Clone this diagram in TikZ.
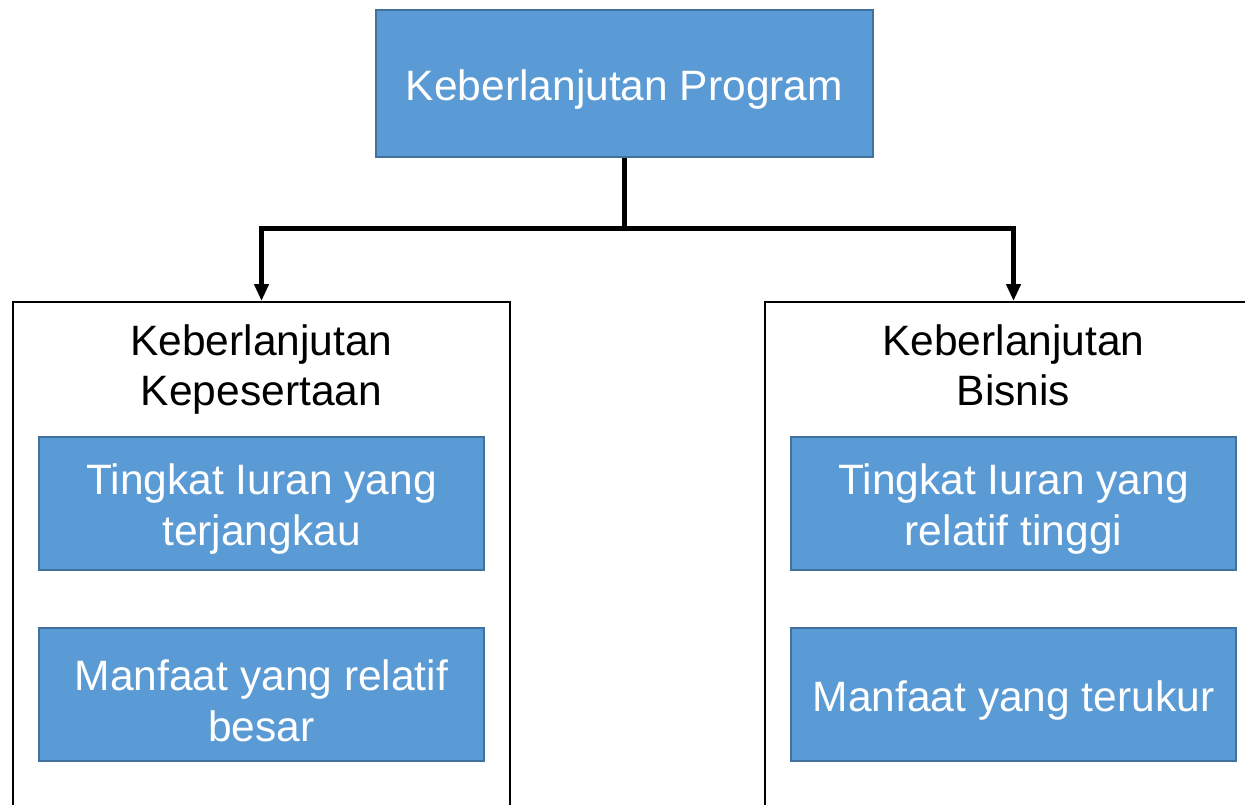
\documentclass[tikz,border=0pt]{standalone}
\usepackage{fontspec}
\setmainfont{Liberation Sans}
\usetikzlibrary{arrows.meta}
\definecolor{boxfill}{HTML}{5B9BD5}
\definecolor{boxline}{HTML}{41719C}
\tikzset{
  bluebox/.style={draw=boxline, line width=2pt, fill=boxfill, inner sep=0pt},
  boxtext/.style={text=white, align=center, font=\fontsize{42.5}{51}\selectfont, inner sep=0pt, yshift=-6pt},
  outerbox/.style={draw=black, line width=2pt, fill=none, inner sep=0pt},
  title/.style={text=black, align=center, font=\fontsize{42.5}{50}\selectfont, inner sep=0pt, anchor=base},
  conn/.style={draw=black, line width=5pt, -{Triangle[length=17pt,width=14pt]}}
}
\begin{document}
\begin{tikzpicture}[x=1pt,y=-1pt]
\useasboundingbox (0,0) rectangle (1245,805);
\fill[white] (0,0) rectangle (1245,805);
% outer boxes (open at bottom, extend past page)
\node[outerbox, minimum width=497pt, minimum height=540pt] (outL) at (261.5,572) {};
\node[outerbox, minimum width=497pt, minimum height=540pt] (outR) at (1013.5,572) {};
% top box
\node[bluebox, minimum width=497pt, minimum height=147pt] (top) at (624.5,83.5) {};
\node[boxtext] (topT) at (top.center) {Keberlanjutan Program};
% titles
\node[title] (tL) at (261.5,405) {Keberlanjutan\\Kepesertaan};
\node[title] (tR) at (1013.5,405) {Keberlanjutan\\Bisnis};
% inner boxes
\node[bluebox, minimum width=445pt, minimum height=133pt] (l1) at (261.5,503.5) {};
\node[boxtext] (l1T) at (l1.center) {Tingkat Iuran yang\\terjangkau};
\node[bluebox, minimum width=445pt, minimum height=133pt] (l2) at (261.5,694.5) {};
\node[boxtext] (l2T) at (l2.center) {Manfaat yang relatif\\besar};
\node[bluebox, minimum width=445pt, minimum height=133pt] (r1) at (1013.5,503.5) {};
\node[boxtext] (r1T) at (r1.center) {Tingkat Iuran yang\\relatif tinggi};
\node[bluebox, minimum width=445pt, minimum height=133pt] (r2) at (1013.5,694.5) {};
\node[boxtext] (r2T) at (r2.center) {Manfaat yang terukur};
% connectors
\coordinate (j) at (624.5,229);
\draw[conn] (top.south) -- (j) -| (outL.north);
\draw[conn] (top.south) -- (j) -| (outR.north);
\end{tikzpicture}
\end{document}
